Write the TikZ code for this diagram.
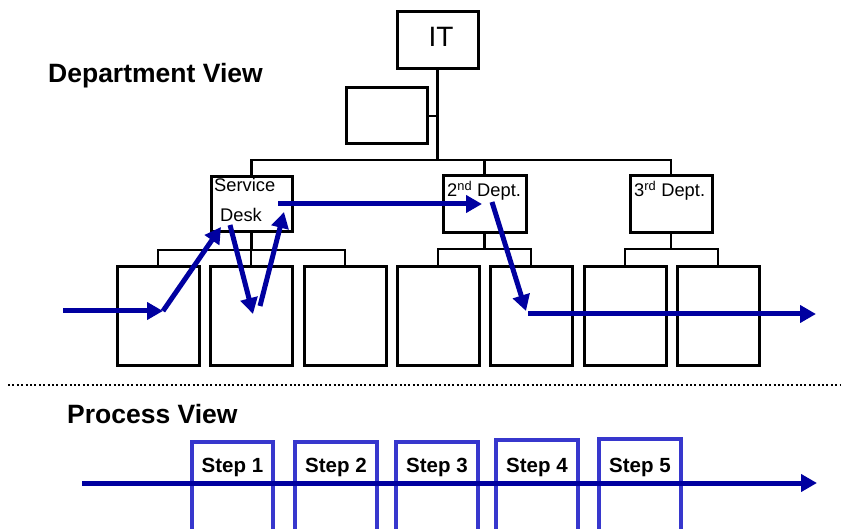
\documentclass[tikz,border=0pt]{standalone}
\usepackage{fontspec}
\setmainfont{Liberation Sans}
\usetikzlibrary{arrows.meta}
\definecolor{navy}{RGB}{0,0,160}
\definecolor{stepblue}{RGB}{55,55,205}
\begin{document}
\begin{tikzpicture}[x=1pt,y=-1pt,
  orgbox/.style={draw=black,line width=3pt,fill=white,inner sep=0pt,minimum width=81pt,minimum height=56pt},
  unitbox/.style={draw=black,line width=3pt,fill=white,inner sep=0pt,minimum width=82pt,minimum height=99pt},
  conn/.style={draw=black,line width=2.8pt},
  flow/.style={draw=navy,line width=5pt,-{Triangle[length=16pt,width=17pt]}},
  stepbox/.style={draw=stepblue,line width=3.2pt},
  lbl/.style={font=\fontsize{18.3}{20}\selectfont,inner sep=0pt},
  head/.style={font=\fontsize{26.5}{30}\selectfont\bfseries,inner sep=0pt,anchor=base west},
  steptxt/.style={font=\fontsize{20.5}{24}\selectfont\bfseries,inner sep=0pt,anchor=base}
]
\useasboundingbox (0,0) rectangle (841,529);
\clip (0,0) rectangle (841,529);

% headings
\node[head] (dv) at (48,83) {Department View};
\node[head] (pv) at (67,423) {Process View};

% top boxes
\node[orgbox,minimum height=57pt] (IT) at (437.5,40.5) {};
\node[font=\fontsize{28}{32}\selectfont,inner sep=0pt,anchor=base] (ITt) at (441,47) {IT};
\node[orgbox] (aux) at (386.5,116) {};
\coordinate (top) at (437.5,160);
\draw[conn] (IT.south) -- (top);
\draw[conn] (aux.east) -- (aux.east -| top);

% departments
\node[orgbox,minimum height=55pt] (SD) at (251.5,204.5) {};
\node[orgbox,minimum width=83pt,minimum height=57pt] (D2) at (484.5,204.5) {};
\node[orgbox,minimum width=82pt,minimum height=57pt] (D3) at (671,204.5) {};
\draw[conn] (SD.north) |- (top) -| (D3.north);
\draw[conn] (D2.north) -- (D2.north |- top);

% units
\foreach \n/\x in {u1/158,u2/251,u3/345,u4/438,u5/531,u6/625,u7/718}
  \node[unitbox] (\n) at (\x,316.5) {};
\coordinate (sdbar) at (251.5,250);
\coordinate (d2bar) at (484.5,249);
\coordinate (d3bar) at (671,249);
\draw[conn] (SD.south) -- (sdbar);
\draw[conn] (u1.north) |- (sdbar) -| (u3.north);
\draw[conn] (u2.north) -- (u2.north |- sdbar);
\draw[conn] (D2.south) -- (d2bar);
\draw[conn] (u4.north) |- (d2bar) -| (u5.north);
\draw[conn] (D3.south) -- (d3bar);
\draw[conn] (u6.north) |- (d3bar) -| (u7.north);

% texts in boxes
\node[lbl,anchor=base west] (sdt1) at (214,192) {Service};
\node[lbl,anchor=base west] (sdt2) at (220,222) {Desk};
\node[lbl,anchor=base west] (d2t) at (447,197) {2\textsuperscript{nd} Dept.};
\node[lbl,anchor=base west] (d3t) at (634,197) {3\textsuperscript{rd} Dept.};

% flow arrows
\coordinate (a0) at (63,311);
\coordinate (a1) at (163,311);
\coordinate (a2) at (221,227);
\coordinate (b0) at (230,225);
\coordinate (b1) at (253,314);
\coordinate (c0) at (260,306);
\coordinate (c1) at (284,212);
\coordinate (e0) at (278,204);
\coordinate (e1) at (482,204);
\coordinate (f0) at (492,202);
\coordinate (f1) at (526,311);
\coordinate (g0) at (528,314);
\coordinate (g1) at (816,314);
\draw[flow] (a0) -- (a1);
\draw[flow] (a1) -- (a2);
\draw[flow] (b0) -- (b1);
\draw[flow] (c0) -- (c1);
\draw[flow] (e0) -- (e1);
\draw[flow] (f0) -- (f1);
\draw[flow] (g0) -- (g1);

% separator
\coordinate (s0) at (8,385);
\coordinate (s1) at (841,385);
\draw[line width=2pt,dash pattern=on 2pt off 2.4pt] (s0) -- (s1);

% process view
\foreach \n/\l/\r/\t/\c/\s in {st1/192/273/442/232.5/1,st2/295/377/442/336/2,st3/396/478/442/437/3,st4/496/578/440/537/4,st5/599/681/439/640/5}{
  \draw[stepbox] (\l,540) -- (\l,\t) -- (\r,\t) -- (\r,540);
  \node[steptxt] (\n) at (\c,472) {Step \s};
}
\coordinate (p0) at (82,483);
\coordinate (p1) at (817,483);
\draw[flow] (p0) -- (p1);
\end{tikzpicture}
\end{document}
